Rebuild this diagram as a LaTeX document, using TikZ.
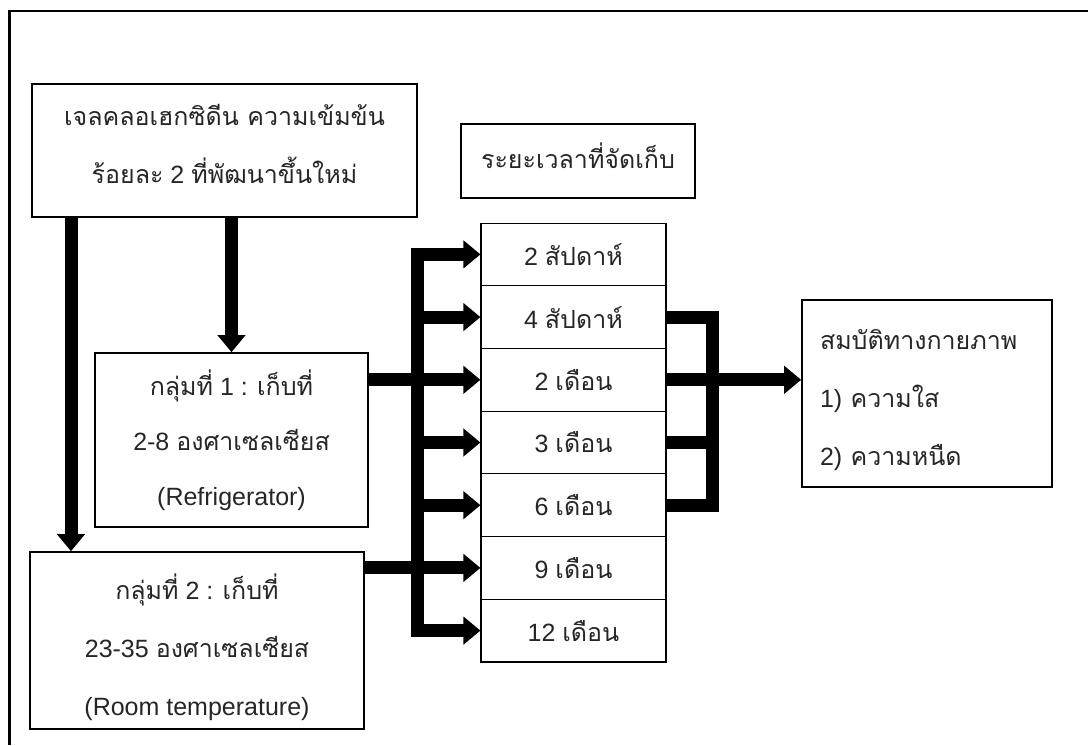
\documentclass[tikz,border=0pt]{standalone}
\usepackage{fontspec}
\setmainfont{Liberation Sans}
\newfontfamily\thai[Script=Thai]{Loma}
\usetikzlibrary{arrows.meta}
\begin{document}
\begin{tikzpicture}[x=1pt,y=-1pt,
  box/.style={draw, line width=1.6pt, inner sep=0pt, align=center, text=black!85},
  cell/.style={draw, line width=1.1pt, minimum width=185pt, minimum height=62.7pt, inner sep=0pt, text=black!85, font=\fontsize{25}{30}\selectfont},
  conn/.style={line width=13pt, line join=miter},
  arr/.style={conn, -{Triangle[length=17pt,width=27pt]}},
  arrtwo/.style={conn, {Triangle[length=17pt,width=27pt]}-{Triangle[length=17pt,width=27pt]}},
]
\useasboundingbox (0,0) rectangle (1088,745);
\draw[line width=2.5pt] (9.5,745) -- (9.5,11) -- (1088,11);

\node[box, minimum width=385pt, minimum height=133pt, font=\fontsize{25}{58}\selectfont] (boxA) at (224.5,150.5)
  {{\thai เจลคลอเฮกซิดีน ความเข้มข้น}\\{\thai ร้อยละ} 2 {\thai ที่พัฒนาขึ้นใหม่}\rule[-14pt]{0pt}{0pt}};
\node[box, minimum width=273pt, minimum height=174pt, font=\fontsize{25}{55}\selectfont] (fridge) at (231.5,440)
  {{\thai กลุ่มที่} 1 : {\thai เก็บที่}\\2-8 {\thai องศาเซลเซียส}\\(Refrigerator)};
\node[box, minimum width=334pt, minimum height=177pt, font=\fontsize{25}{58}\selectfont] (room) at (197,640.5)
  {\rule{0pt}{40pt}{\thai กลุ่มที่} 2 : {\thai เก็บที่}\\23-35 {\thai องศาเซลเซียส}\\(Room temperature)};
\node[box, minimum width=234pt, minimum height=74pt, font=\fontsize{25}{30}\selectfont] (head) at (578,161)
  {{\thai ระยะเวลาที่จัดเก็บ}\rule[-10pt]{0pt}{0pt}};
\node[box, align=left, text width=214pt, inner xsep=18pt, minimum height=187pt, font=\fontsize{25}{58}\selectfont] (phys) at (927,393.5)
  {\rule{0pt}{34pt}{\thai สมบัติทางกายภาพ}\\1) {\thai ความใส}\\2) {\thai ความหนืด}};

\node[cell] (c1) at (573.5,254.4) {2 {\thai สัปดาห์}};
\node[cell] (c2) at (573.5,317.1) {4 {\thai สัปดาห์}};
\node[cell] (c3) at (573.5,379.8) {2 {\thai เดือน}};
\node[cell] (c4) at (573.5,442.5) {3 {\thai เดือน}};
\node[cell] (c5) at (573.5,505.2) {6 {\thai เดือน}};
\node[cell] (c6) at (573.5,567.9) {9 {\thai เดือน}};
\node[cell] (c7) at (573.5,630.6) {12 {\thai เดือน}};

\coordinate (xl) at (71,0);
\coordinate (bus) at (417,0);
\coordinate (rb) at (712,0);

\draw[arr] (boxA.south -| xl) -- (room.north -| xl);
\draw[arr] (boxA.south -| fridge.north) -- (fridge.north);
\draw[arr] (fridge.east |- c3) -- (c3.west);
\draw[arr] (room.east |- c6) -- (c6.west);
\draw[arrtwo] (c1.west) -- (bus |- c1) -- (bus |- c7) -- (c7.west);
\draw[arr] (bus |- c2) -- (c2.west);
\draw[arr] (bus |- c4) -- (c4.west);
\draw[arr] (bus |- c5) -- (c5.west);
\draw[conn] (c2.east) -- (rb |- c2) -- (rb |- c5) -- (c5.east);
\draw[conn] (c4.east) -- (rb |- c4);
\draw[arr] (c3.east) -- (c3 -| phys.west);
\end{tikzpicture}
\end{document}
